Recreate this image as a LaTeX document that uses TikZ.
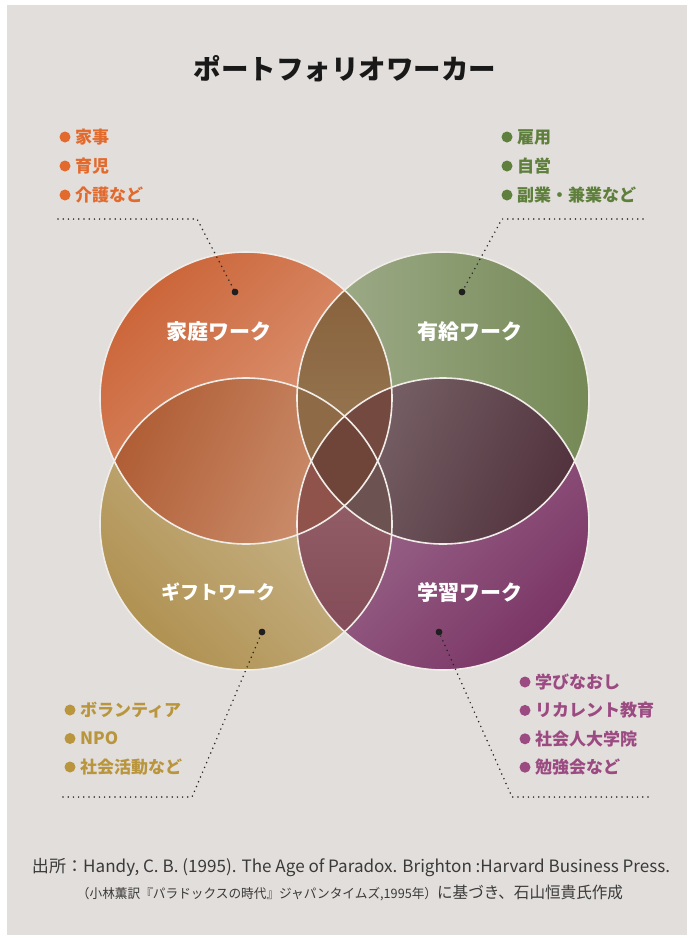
\documentclass[tikz,border=0pt]{standalone}
\usepackage{graphicx}
\usepackage{fontspec}
\newfontfamily\jp{Noto Sans CJK JP}
\definecolor{bgc}{HTML}{E2DEDB}
\definecolor{ringc}{HTML}{F0ECE8}
\definecolor{tlA}{HTML}{CC663A}
\definecolor{tlB}{HTML}{E0A68A}
\definecolor{trA}{HTML}{758956}
\definecolor{trB}{HTML}{A2AF8E}
\definecolor{blA}{HTML}{D1C09E}
\definecolor{blB}{HTML}{B09252}
\definecolor{brA}{HTML}{A57898}
\definecolor{brB}{HTML}{7B3666}
\definecolor{pTopA}{HTML}{88623D}
\definecolor{pTopB}{HTML}{9B7F59}
\definecolor{pLeftA}{HTML}{B05E35}
\definecolor{pLeftB}{HTML}{CF9474}
\definecolor{pRightA}{HTML}{7C686C}
\definecolor{pRightB}{HTML}{52333E}
\definecolor{pBotA}{HTML}{9B686F}
\definecolor{pBotB}{HTML}{834C58}
\definecolor{tTTL}{HTML}{8E6A46}
\definecolor{tTTR}{HTML}{744A40}
\definecolor{tLBB}{HTML}{90534B}
\definecolor{tRBB}{HTML}{6C5251}
\definecolor{quad}{HTML}{6F4539}
\definecolor{cOr}{HTML}{E26A2D}
\definecolor{cGr}{HTML}{5F7F3C}
\definecolor{cGo}{HTML}{B9953D}
\definecolor{cPu}{HTML}{9B4A82}
\definecolor{footc}{HTML}{3A3A3A}
\tikzset{
  ring/.style={draw=ringc, line width=1.6pt},
  lead/.style={draw=black!85, line width=1.7pt, line cap=round, dash pattern=on 0pt off 5.2pt},
  dotn/.style={circle, fill=black!88, inner sep=0pt, minimum size=6.5pt},
  item/.style={anchor=west, inner sep=0pt, font=\jp\bfseries\fontsize{17}{17}\selectfont},
  clabel/.style={text=white, inner sep=0pt, font=\jp\bfseries\fontsize{21}{21}\selectfont},
}
\begin{document}
\begin{tikzpicture}[x=1pt,y=-1pt]
\useasboundingbox (0,0) rectangle (690,937);
\fill[white] (0,0) rectangle (690,937);
\fill[bgc] (7,5) rectangle (687,935);

% title
\node[font=\jp\bfseries\fontsize{27.5}{27.5}\selectfont, text=black!90] (title) at (345,69) {ポートフォリオワーカー};

% single circles
\shade[top color=tlA, bottom color=tlB, shading angle=45] (246,398) circle[radius=146pt];
\shade[top color=trA, bottom color=trB, shading angle=-90] (443,398) circle[radius=146pt];
\shade[top color=blA, bottom color=blB, shading angle=-45] (246,524) circle[radius=146pt];
\shade[top color=brA, bottom color=brB, shading angle=45] (443,524) circle[radius=146pt];

% pair overlaps
\begin{scope}
  \clip (246,398) circle[radius=146pt];
  \clip (443,398) circle[radius=146pt];
  \shade[top color=pTopA, bottom color=pTopB] (297,290) rectangle (393,506);
\end{scope}
\begin{scope}
  \clip (246,398) circle[radius=146pt];
  \clip (246,524) circle[radius=146pt];
  \shade[top color=pLeftA, bottom color=pLeftB, shading angle=65] (114,378) rectangle (378,544);
\end{scope}
\begin{scope}
  \clip (443,398) circle[radius=146pt];
  \clip (443,524) circle[radius=146pt];
  \shade[top color=pRightA, bottom color=pRightB, shading angle=65] (311,378) rectangle (575,544);
\end{scope}
\begin{scope}
  \clip (246,524) circle[radius=146pt];
  \clip (443,524) circle[radius=146pt];
  \shade[top color=pBotA, bottom color=pBotB] (297,416) rectangle (393,632);
\end{scope}
\begin{scope}
  \clip (246,398) circle[radius=146pt];
  \clip (443,524) circle[radius=146pt];
  \fill[quad] (250,300) rectangle (440,620);
\end{scope}
\begin{scope}
  \clip (443,398) circle[radius=146pt];
  \clip (246,524) circle[radius=146pt];
  \fill[quad] (250,300) rectangle (440,620);
\end{scope}

% triple overlaps
\begin{scope}
  \clip (246,398) circle[radius=146pt];
  \clip (443,398) circle[radius=146pt];
  \clip (246,524) circle[radius=146pt];
  \fill[tTTL] (250,300) rectangle (440,620);
\end{scope}
\begin{scope}
  \clip (246,398) circle[radius=146pt];
  \clip (443,398) circle[radius=146pt];
  \clip (443,524) circle[radius=146pt];
  \fill[tTTR] (250,300) rectangle (440,620);
\end{scope}
\begin{scope}
  \clip (246,398) circle[radius=146pt];
  \clip (246,524) circle[radius=146pt];
  \clip (443,524) circle[radius=146pt];
  \fill[tLBB] (250,300) rectangle (440,620);
\end{scope}
\begin{scope}
  \clip (443,398) circle[radius=146pt];
  \clip (246,524) circle[radius=146pt];
  \clip (443,524) circle[radius=146pt];
  \fill[tRBB] (250,300) rectangle (440,620);
\end{scope}
\begin{scope}
  \clip (246,398) circle[radius=146pt];
  \clip (443,398) circle[radius=146pt];
  \clip (246,524) circle[radius=146pt];
  \clip (443,524) circle[radius=146pt];
  \fill[quad] (250,300) rectangle (440,620);
\end{scope}

% outlines
\draw[ring] (246,398) circle[radius=146pt];
\draw[ring] (443,398) circle[radius=146pt];
\draw[ring] (246,524) circle[radius=146pt];
\draw[ring] (443,524) circle[radius=146pt];

% circle labels
\node[clabel] (lTL) at (219,332) {家庭ワーク};
\node[clabel] (lTR) at (470,332) {有給ワーク};
\node[clabel, font=\jp\bfseries\fontsize{19}{19}\selectfont] (lBL) at (218,592) {ギフトワーク};
\node[clabel] (lBR) at (470,592) {学習ワーク};

% leaders
\node[dotn] (dTL) at (235,292) {};
\node[dotn] (dTR) at (462,292) {};
\node[dotn] (dBL) at (262,632) {};
\node[dotn] (dBR) at (439,632) {};
\coordinate (hTL) at (58,219);  \coordinate (kTL) at (197,219);
\coordinate (hTR) at (643,219); \coordinate (kTR) at (502,219);
\coordinate (hBL) at (63,797);  \coordinate (kBL) at (192,797);
\coordinate (hBR) at (648,797); \coordinate (kBR) at (512,797);
\draw[lead] (hTL) -- (kTL) -- (dTL.center);
\draw[lead] (hTR) -- (kTR) -- (dTR.center);
\draw[lead] (hBL) -- (kBL) -- (dBL.center);
\draw[lead] (hBR) -- (kBR) -- (dBR.center);
\node[dotn] at (dTL) {};
\node[dotn] at (dTR) {};
\node[dotn] at (dBL) {};
\node[dotn] at (dBR) {};

% lists
\foreach \t [count=\i from 0] in {家事,育児,介護など} {
  \fill[cOr] (65,{137+29*\i}) circle[radius=5.5pt];
  \node[item, text=cOr] (iTL\i) at (75,{137+29*\i}) {\t};
}
\foreach \t [count=\i from 0] in {雇用,自営,副業・兼業など} {
  \fill[cGr] (507,{137+29*\i}) circle[radius=5.5pt];
  \node[item, text=cGr] (iTR\i) at (517,{137+29*\i}) {\t};
}
\foreach \t [count=\i from 0] in {ボランティア,NPO,社会活動など} {
  \fill[cGo] (70,{710+28.5*\i}) circle[radius=5.5pt];
  \node[item, text=cGo] (iBL\i) at (80,{710+28.5*\i}) {\t};
}
\foreach \t [count=\i from 0] in {学びなおし,リカレント教育,社会人大学院,勉強会など} {
  \fill[cPu] (525,{682+28.4*\i}) circle[radius=5.5pt];
  \node[item, text=cPu] (iBR\i) at (535,{682+28.4*\i}) {\t};
}

% source
\node[font=\jp\fontsize{17}{17}\selectfont, text=footc, inner sep=0pt] (src1) at (351,868)
  {\resizebox{638pt}{\height}{出所：Handy, C. B. (1995). The Age of Paradox. Brighton :Harvard Business Press.}};
\node[font=\jp\fontsize{16}{16}\selectfont, text=footc, inner sep=0pt] (src2) at (350,893)
  {\resizebox{546pt}{\height}{{\fontsize{13}{13}\selectfont （小林薫訳『パラドックスの時代』ジャパンタイムズ,1995年）}に基づき、石山恒貴氏作成}};
\end{tikzpicture}
\end{document}
